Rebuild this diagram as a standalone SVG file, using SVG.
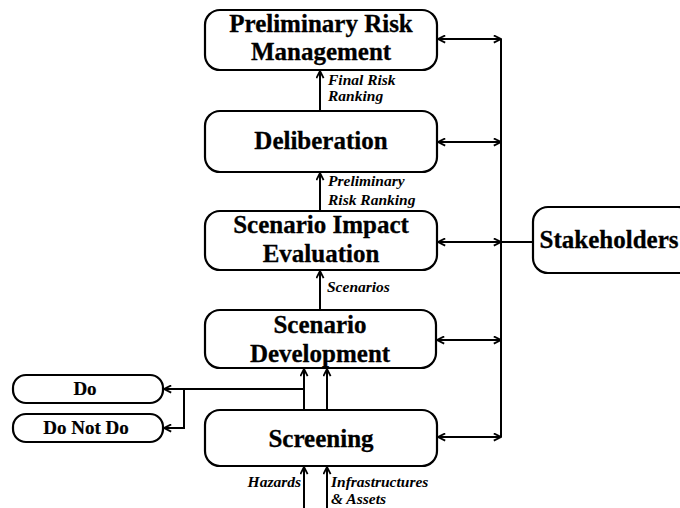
<svg xmlns="http://www.w3.org/2000/svg" width="680" height="508" viewBox="0 0 680 508">
<defs>
<marker id="ah" viewBox="0 0 10 10" refX="9" refY="5" markerWidth="9" markerHeight="9" markerUnits="userSpaceOnUse" orient="auto-start-reverse">
<path d="M1,1 L9,5 L1,9" fill="none" stroke="#000" stroke-width="2"/>
</marker>
<style>
.box{fill:#fff;stroke:#000;stroke-width:2.2}
.t{font-family:"Liberation Serif","Times New Roman",serif;font-weight:bold;font-size:25px;text-anchor:middle;fill:#000;stroke:#000;stroke-width:0.3}
.ts{font-family:"Liberation Serif","Times New Roman",serif;font-weight:bold;font-size:19px;text-anchor:middle;fill:#000;stroke:#000;stroke-width:0.2}
.lb{font-family:"Liberation Serif","Times New Roman",serif;font-weight:bold;font-style:italic;font-size:15.5px;fill:#000}
.c{fill:none;stroke:#000;stroke-width:2}
</style>
</defs>
<rect width="680" height="508" fill="#fff"/>
<g id="connectors">
<line class="c" x1="320" y1="110" x2="320" y2="71" marker-end="url(#ah)"/>
<line class="c" x1="320" y1="210" x2="320" y2="173" marker-end="url(#ah)"/>
<line class="c" x1="320" y1="310" x2="320" y2="271" marker-end="url(#ah)"/>
<line class="c" x1="304" y1="410" x2="304" y2="369" marker-end="url(#ah)"/>
<line class="c" x1="327" y1="410" x2="327" y2="369" marker-end="url(#ah)"/>
<line class="c" x1="304" y1="508" x2="304" y2="467" marker-end="url(#ah)"/>
<line class="c" x1="327" y1="508" x2="327" y2="467" marker-end="url(#ah)"/>
<line class="c" x1="304" y1="389" x2="164" y2="389" marker-end="url(#ah)"/>
<polyline class="c" points="184,389 184,428 164,428" marker-end="url(#ah)"/>
<line class="c" x1="501" y1="39" x2="501" y2="437"/>
<line class="c" x1="438" y1="39" x2="501" y2="39" marker-start="url(#ah)" marker-end="url(#ah)"/>
<line class="c" x1="438" y1="142" x2="501" y2="142" marker-start="url(#ah)" marker-end="url(#ah)"/>
<line class="c" x1="438" y1="242" x2="501" y2="242" marker-start="url(#ah)" marker-end="url(#ah)"/>
<line class="c" x1="437" y1="340" x2="501" y2="340" marker-start="url(#ah)" marker-end="url(#ah)"/>
<line class="c" x1="438" y1="437" x2="501" y2="437" marker-start="url(#ah)" marker-end="url(#ah)"/>
<line class="c" x1="501" y1="242" x2="533" y2="242"/>
<text class="lb" x="328" y="85">Final Risk</text>
<text class="lb" x="328" y="101">Ranking</text>
<text class="lb" x="328" y="186">Preliminary</text>
<text class="lb" x="328" y="205">Risk Ranking</text>
<text class="lb" x="327" y="292">Scenarios</text>
<text class="lb" x="301" y="487" text-anchor="end">Hazards</text>
<text class="lb" x="331" y="487">Infrastructures</text>
<text class="lb" x="331" y="504">&amp; Assets</text>
</g>
<g id="prm">
<rect class="box" x="205" y="10" width="232" height="60" rx="15"/>
<text class="t" x="321" y="32">Preliminary Risk</text>
<text class="t" x="321" y="60">Management</text>
</g>
<g id="deliberation">
<rect class="box" x="205" y="111" width="232" height="61" rx="15"/>
<text class="t" x="321" y="149">Deliberation</text>
</g>
<g id="sie">
<rect class="box" x="205" y="211" width="232" height="59" rx="15"/>
<text class="t" x="321" y="233">Scenario Impact</text>
<text class="t" x="321" y="262">Evaluation</text>
</g>
<g id="sd">
<rect class="box" x="205" y="310" width="231" height="58" rx="15"/>
<text class="t" x="320" y="333">Scenario</text>
<text class="t" x="320" y="362">Development</text>
</g>
<g id="screening">
<rect class="box" x="205" y="410" width="232" height="56" rx="15"/>
<text class="t" x="321" y="447">Screening</text>
</g>
<g id="do">
<rect class="box" x="13" y="375" width="150" height="28" rx="13"/>
<text class="ts" x="85" y="395">Do</text>
</g>
<g id="donotdo">
<rect class="box" x="13" y="414" width="150" height="28" rx="13"/>
<text class="ts" x="86" y="434">Do Not Do</text>
</g>
<g id="stakeholders">
<rect class="box" x="533" y="207" width="160" height="66" rx="15"/>
<text class="t" x="609" y="248">Stakeholders</text>
</g>
</svg>
